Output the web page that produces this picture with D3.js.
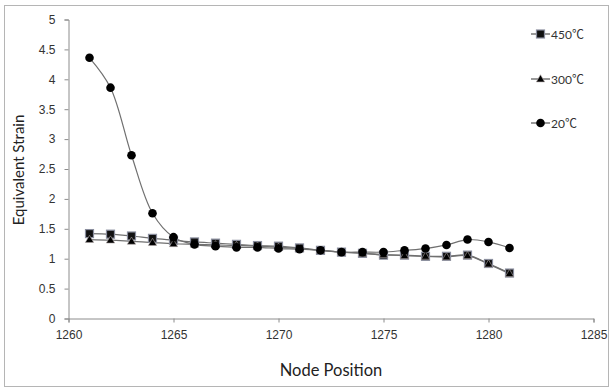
<!DOCTYPE html>
<html lang="en">
<head>
<meta charset="UTF-8">
<title>Equivalent Strain vs Node Position</title>
<script src="https://d3js.org/d3.v7.min.js"></script>
<style>
    body { margin: 0; background: #fff; }
    svg { display: block; font-family: Lato, "Liberation Sans", sans-serif; }
    .axis path, .axis line { stroke: #8c8c8c; }
    .axis text { fill: #333; font-size: 12px; }
    .series-line { fill: none; stroke: #707070; stroke-width: 1.2; }
    .legend-text { font-family: Lato, "Noto Sans CJK SC", sans-serif; }
</style>
</head>
<body>
<svg width="612" height="388"></svg>
<script>
// node positions along the x-axis
const nodes = d3.range(1261, 1282);

// equivalent strain per temperature
const strain450 = [1.42, 1.41, 1.38, 1.34, 1.31, 1.28, 1.26, 1.24, 1.22, 1.21, 1.18,
                   1.14, 1.11, 1.09, 1.06, 1.06, 1.04, 1.04, 1.06, 0.92, 0.76];
const strain300 = [1.32, 1.31, 1.29, 1.27, 1.25, 1.24, 1.23, 1.22, 1.21, 1.19, 1.17,
                   1.14, 1.11, 1.09, 1.07, 1.05, 1.04, 1.03, 1.05, 0.91, 0.75];
const strain20  = [4.36, 3.86, 2.73, 1.76, 1.36, 1.24, 1.21, 1.19, 1.19, 1.17, 1.16,
                   1.14, 1.11, 1.11, 1.11, 1.14, 1.17, 1.23, 1.32, 1.28, 1.18];

const seriesNames = ["450℃", "300℃", "20℃"];
const markers = ["square", "triangle", "circle"];
const xTicks = [1260, 1265, 1270, 1275, 1280, 1285];
const yTicks = [0, 0.5, 1, 1.5, 2, 2.5, 3, 3.5, 4, 4.5, 5];

const series = [strain450, strain300, strain20].map((vals, i) => ({
    name: seriesNames[i],
    marker: markers[i],
    points: nodes.map((n, j) => ({x: n, y: vals[j]}))
}));

const svg = d3.select("svg");

// outer chart border
svg.append("rect")
    .attr("x", 4.5).attr("y", 5.5)
    .attr("width", 604).attr("height", 381)
    .attr("fill", "none").attr("stroke", "#b5b5b5");

const x = d3.scaleLinear().domain([1260, 1285]).range([68.5, 593.5]);
const y = d3.scaleLinear().domain([0, 5]).range([318.5, 19.5]);

svg.append("g")
    .attr("class", "axis")
    .attr("transform", "translate(0,318.5)")
    .call(d3.axisBottom(x).tickValues(xTicks).tickFormat(d3.format("d")).tickSizeOuter(0).tickSize(4).tickPadding(8));

svg.append("g")
    .attr("class", "axis")
    .attr("transform", "translate(68.5,0)")
    .call(d3.axisLeft(y).tickValues(yTicks).tickFormat(d => d).tickSizeOuter(0).tickSize(4).tickPadding(9));

svg.append("text")
    .attr("x", 331).attr("y", 376)
    .attr("text-anchor", "middle")
    .attr("font-size", 16.5).attr("fill", "#222")
    .text("Node Position");

svg.append("text")
    .attr("transform", "translate(24,170) rotate(-90)")
    .attr("text-anchor", "middle")
    .attr("font-size", 15).attr("fill", "#222")
    .text("Equivalent Strain");

const line = d3.line()
    .x(d => x(d.x))
    .y(d => y(d.y))
    .curve(d3.curveCatmullRom.alpha(0.5));

function drawMarker(g, type, cx, cy) {
    if (type === "square") {
        g.append("rect")
            .attr("x", cx - 4).attr("y", cy - 4)
            .attr("width", 8).attr("height", 8)
            .attr("fill", "#111").attr("stroke", "#8a8e9e").attr("stroke-width", 1.2);
    } else if (type === "triangle") {
        g.append("path")
            .attr("d", d3.symbol(d3.symbolTriangle, 30)())
            .attr("transform", `translate(${cx},${cy + 0.5})`)
            .attr("fill", "#000").attr("stroke", "#b0a8a8").attr("stroke-width", 0.6);
    } else {
        g.append("circle")
            .attr("cx", cx).attr("cy", cy).attr("r", 4.3)
            .attr("fill", "#000");
    }
}

series.forEach(s => {
    svg.append("path")
        .datum(s.points)
        .attr("class", "series-line")
        .attr("d", line);
});

series.forEach(s => {
    const g = svg.append("g");
    s.points.forEach(p => drawMarker(g, s.marker, x(p.x), y(p.y)));
});

// legend
const legendY = [34, 79, 123];
series.forEach((s, i) => {
    const g = svg.append("g");
    g.append("line")
        .attr("x1", 531).attr("x2", 550)
        .attr("y1", legendY[i]).attr("y2", legendY[i])
        .attr("stroke", "#555").attr("stroke-width", 1.2);
    drawMarker(g, s.marker, 540.5, legendY[i]);
    g.append("text")
        .attr("class", "legend-text")
        .attr("x", 551).attr("y", legendY[i] + 4.5)
        .attr("font-size", 12).attr("fill", "#333")
        .text(s.name);
});
</script>
</body>
</html>
